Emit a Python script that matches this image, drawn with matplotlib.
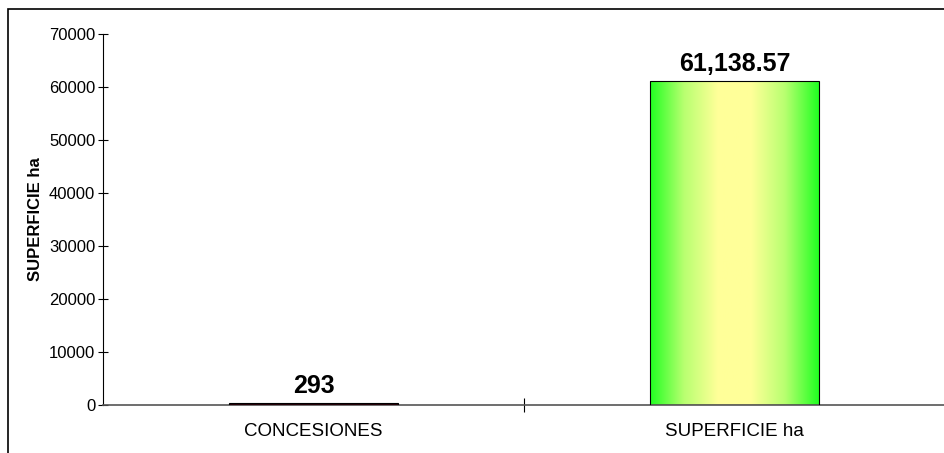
import numpy as np
import matplotlib.pyplot as plt
from matplotlib.colors import LinearSegmentedColormap
from matplotlib.patches import Rectangle

categories = ["CONCESIONES", "SUPERFICIE ha"]
values = [293, 61138.57]
value_labels = ["293", "61,138.57"]
y_ticks = [0, 10000, 20000, 30000, 40000, 50000, 60000, 70000]

fig = plt.figure(figsize=(9.45, 4.53), dpi=100)
ax = fig.add_axes([103 / 945, 1 - 405 / 453, 1 - 103 / 945, (405 - 34) / 453])

# outer frame (cut off at right and bottom like the original)
fig.patches.append(Rectangle((8 / 945, -0.1), 1.2, 1 - 9 / 453 + 0.1,
                             transform=fig.transFigure, fill=False,
                             edgecolor="black", linewidth=1.2))

x = np.arange(len(categories))
width = 0.4
bars = ax.bar(x, values, width=width, color=["#2a0008", "none"],
              edgecolor="black", linewidth=0.8, zorder=3)

# green-yellow-green gradient on the second bar
cmap = LinearSegmentedColormap.from_list(
    "gy", ["#22ff22", "#b8ff70", "#ffff99", "#ffff99", "#b8ff70", "#22ff22"])
grad = np.linspace(0, 1, 256).reshape(1, -1)
b = bars[1]
im = ax.imshow(grad, cmap=cmap, aspect="auto", zorder=2,
               extent=[b.get_x(), b.get_x() + b.get_width(), 0, b.get_height()])
im.set_clip_path(b)

for xi, v, lab in zip(x, values, value_labels):
    ax.text(xi, v + 1900, lab, ha="center", va="baseline",
            fontsize=18, fontweight="bold", family="Liberation Sans")

ax.set_xlim(-0.5, 1.5)
ax.set_ylim(0, 70000)
ax.set_yticks(y_ticks)
ax.set_yticklabels([str(t) for t in y_ticks], fontsize=12, family="Liberation Sans")
ax.tick_params(axis="y", direction="inout", length=7, width=0.8, pad=2)

ax.set_xticks([0.5])
ax.set_xticklabels([""])
ax.tick_params(axis="x", which="major", direction="inout", length=10, width=0.8)
ax.set_xticks(x, minor=True)
ax.set_xticklabels(categories, minor=True, fontsize=13.5, family="Liberation Sans")
ax.tick_params(axis="x", which="minor", length=0, pad=13)

ax.set_ylabel("SUPERFICIE ha", fontsize=12, fontweight="bold",
              family="Liberation Sans", labelpad=4)

for s in ["top", "right"]:
    ax.spines[s].set_visible(False)
ax.spines["left"].set_linewidth(0.8)
ax.spines["bottom"].set_linewidth(1.2)
ax.spines["bottom"].set_color("#555555")

fig.savefig("out.png", dpi=100)
